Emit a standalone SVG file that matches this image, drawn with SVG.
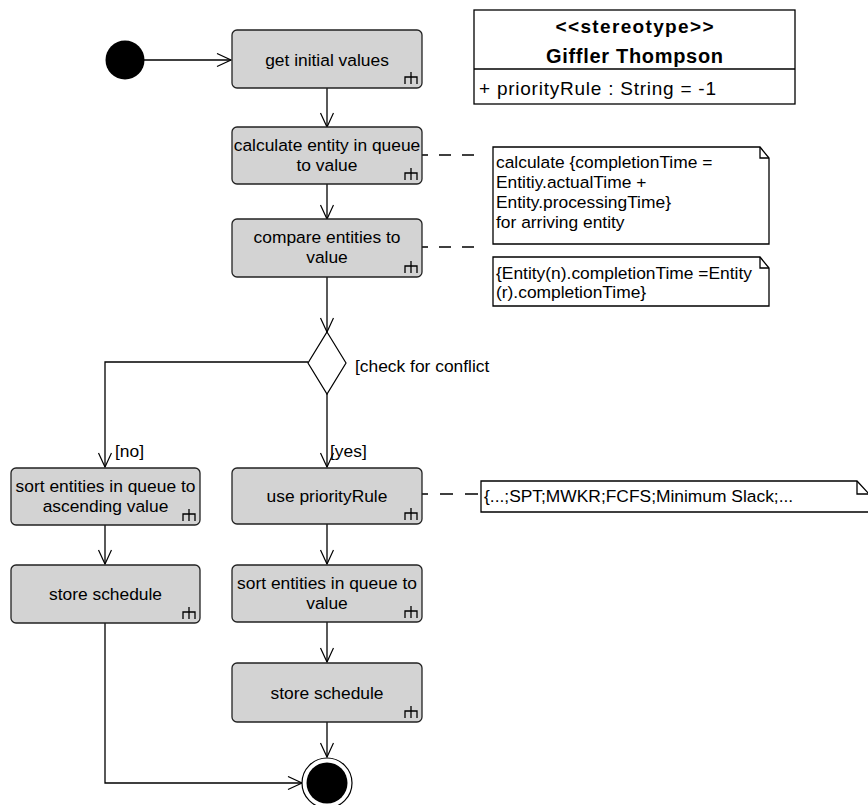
<svg xmlns="http://www.w3.org/2000/svg" width="868" height="805" viewBox="0 0 868 805">
  <style>
    text { font-family: "Liberation Sans", Arial, sans-serif; font-size: 17.4px; fill: #000; }
    .c { text-anchor: middle; }
    .b { font-weight: bold; }
    .act { fill: #d3d3d3; stroke: #222; stroke-width: 1.3; }
    .rake { fill: none; stroke: #000; stroke-width: 1.3; }
    .ln { fill: none; stroke: #000; stroke-width: 1.3; }
    .dash { fill: none; stroke: #000; stroke-width: 1.3; }
    .note { fill: #fff; stroke: #000; stroke-width: 1.3; }
  </style>
  <defs>
    <marker id="arr" markerWidth="17" markerHeight="16" refX="15" refY="7" orient="auto" markerUnits="userSpaceOnUse">
      <path d="M1,0.5 L15,7 L1,13.5" fill="none" stroke="#000" stroke-width="1.2"/>
    </marker>
    <!-- call-behaviour rake glyph, anchored at the box's bottom-right corner -->
    <path id="rk" d="M-11,-16 V-4 M-17,-4 V-11 H-5 V-4"/>
  </defs>

  <rect width="868" height="805" fill="#fff"/>

  <!-- connectors -->
  <g id="connectors">
    <line class="ln" x1="144" y1="60" x2="231" y2="60" marker-end="url(#arr)"/>
    <line class="ln" x1="327" y1="88" x2="327" y2="127" marker-end="url(#arr)"/>
    <line class="ln" x1="327" y1="184" x2="327" y2="219" marker-end="url(#arr)"/>
    <line class="ln" x1="327" y1="277" x2="327" y2="332" marker-end="url(#arr)"/>
    <path class="ln" d="M308,362 H105 V467" marker-end="url(#arr)"/>
    <line class="ln" x1="327" y1="394" x2="327" y2="467" marker-end="url(#arr)"/>
    <line class="ln" x1="105" y1="525" x2="105" y2="564" marker-end="url(#arr)"/>
    <line class="ln" x1="327" y1="524" x2="327" y2="564" marker-end="url(#arr)"/>
    <line class="ln" x1="327" y1="622" x2="327" y2="662" marker-end="url(#arr)"/>
    <line class="ln" x1="327" y1="722" x2="327" y2="757" marker-end="url(#arr)"/>
    <path class="ln" d="M105,623 V783 H302" marker-end="url(#arr)"/>
    <!-- note anchors -->
    <line class="dash" x1="474" y1="155" x2="422" y2="155" stroke-dasharray="12 11"/>
    <line class="dash" x1="474" y1="247" x2="422" y2="247" stroke-dasharray="12 11"/>
    <line class="dash" x1="478" y1="494" x2="422" y2="494" stroke-dasharray="13 12"/>
    <text x="355" y="372">[check for conflict</text>
    <text x="115" y="457">[no]</text>
    <text x="330" y="457">[yes]</text>
  </g>

  <g id="start">
    <circle cx="125" cy="60" r="19.5" fill="#000"/>
  </g>

  <g id="getInitialValues">
    <rect class="act" x="232" y="30" width="190" height="58" rx="5"/>
    <text class="c" x="327" y="66">get initial values</text>
    <use href="#rk" class="rake" x="422" y="88"/>
  </g>

  <g id="calculateEntity">
    <rect class="act" x="232" y="127" width="190" height="57" rx="5"/>
    <text class="c" x="327" y="150.5">calculate entity in queue</text>
    <text class="c" x="327" y="170.5">to value</text>
    <use href="#rk" class="rake" x="422" y="184"/>
  </g>

  <g id="compareEntities">
    <rect class="act" x="232" y="219" width="190" height="58" rx="5"/>
    <text class="c" x="327" y="243">compare entities to</text>
    <text class="c" x="327" y="263">value</text>
    <use href="#rk" class="rake" x="422" y="277"/>
  </g>

  <g id="conflictDecision">
    <polygon points="327,332 346,363 327,394 308,363" fill="#fff" stroke="#000" stroke-width="1.2"/>
  </g>

  <g id="sortAscending">
    <rect class="act" x="11" y="468" width="189" height="57" rx="5"/>
    <text class="c" x="105.5" y="492">sort entities in queue to</text>
    <text class="c" x="105.5" y="512">ascending value</text>
    <use href="#rk" class="rake" x="200" y="525"/>
  </g>

  <g id="storeScheduleLeft">
    <rect class="act" x="11" y="565" width="189" height="58" rx="5"/>
    <text class="c" x="105.5" y="600">store schedule</text>
    <use href="#rk" class="rake" x="200" y="623"/>
  </g>

  <g id="usePriorityRule">
    <rect class="act" x="232" y="468" width="190" height="56" rx="5"/>
    <text class="c" x="327" y="502">use priorityRule</text>
    <use href="#rk" class="rake" x="422" y="524"/>
  </g>

  <g id="sortToValue">
    <rect class="act" x="232" y="565" width="190" height="57" rx="5"/>
    <text class="c" x="327" y="588.5">sort entities in queue to</text>
    <text class="c" x="327" y="608.5">value</text>
    <use href="#rk" class="rake" x="422" y="622"/>
  </g>

  <g id="storeScheduleRight">
    <rect class="act" x="232" y="663" width="190" height="59" rx="5"/>
    <text class="c" x="327" y="699">store schedule</text>
    <use href="#rk" class="rake" x="422" y="722"/>
  </g>

  <g id="final">
    <circle cx="327" cy="783" r="25" fill="#fff" stroke="#000" stroke-width="1.2"/>
    <circle cx="327" cy="783" r="20.5" fill="#000"/>
  </g>

  <g id="noteCompletionTime">
    <path class="note" d="M493,147 H760 L769,158 V244 H493 Z"/>
    <path class="rake" d="M760,147 V158 H769"/>
    <text x="496" y="168">calculate {completionTime =</text>
    <text x="496" y="188">Entitiy.actualTime +</text>
    <text x="496" y="208">Entity.processingTime}</text>
    <text x="496" y="228">for arriving entity</text>
  </g>

  <g id="noteCompare">
    <path class="note" d="M493,257 H760 L769,268 V306 H493 Z"/>
    <path class="rake" d="M760,257 V268 H769"/>
    <text x="496" y="279">{Entity(n).completionTime =Entity</text>
    <text x="496" y="298">(r).completionTime}</text>
  </g>

  <g id="notePriorityRule">
    <path class="note" d="M481,481 H857 L870,495 V512 H481 Z"/>
    <path class="rake" d="M857,481 V494 H870"/>
    <text x="484" y="502">{...;SPT;MWKR;FCFS;Minimum Slack;...</text>
  </g>

  <g id="gifflerThompson">
    <rect x="474" y="10" width="321" height="94" fill="#fff" stroke="#000" stroke-width="1.3"/>
    <line x1="474" y1="69" x2="795" y2="69" stroke="#000" stroke-width="1.3"/>
    <text class="c b" x="634.5" y="33" style="font-size:19px" textLength="158">&lt;&lt;stereotype&gt;&gt;</text>
    <text class="c b" x="634.5" y="63" style="font-size:20px" textLength="177">Giffler Thompson</text>
    <text x="479" y="95" style="font-size:19px" textLength="237">+ priorityRule : String = -1</text>
  </g>
</svg>
